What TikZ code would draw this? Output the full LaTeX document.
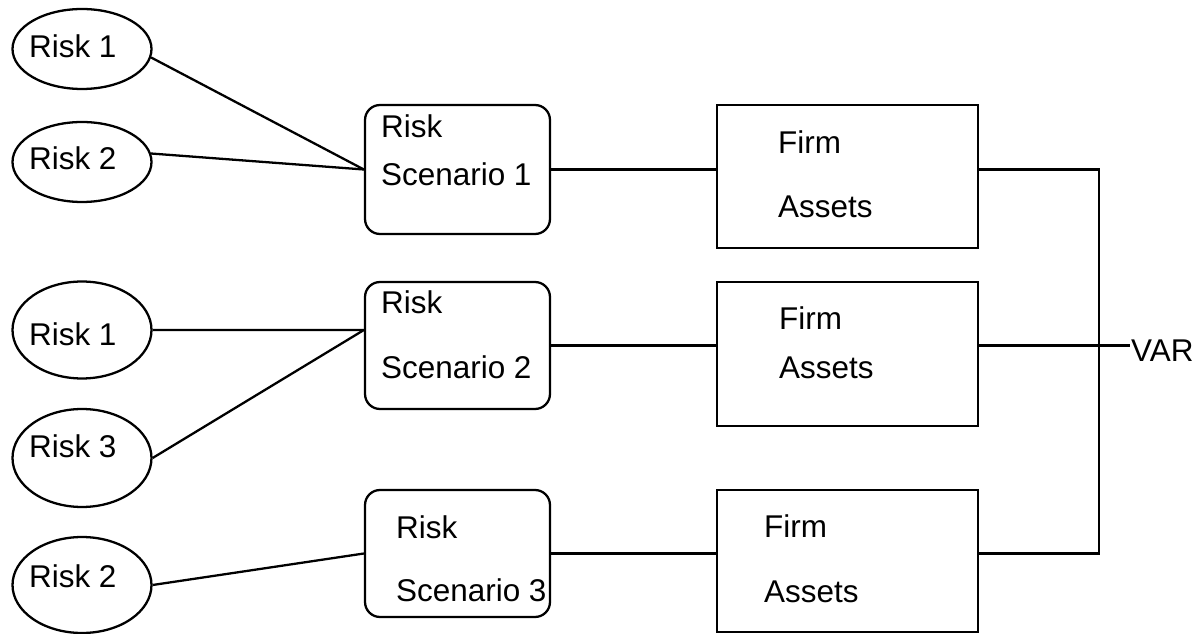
\documentclass[tikz,border=0pt]{standalone}
\usepackage{fontspec}
\setmainfont{Liberation Sans}
\usepackage{tikz}
\usetikzlibrary{shapes.geometric}

\begin{document}
\begin{tikzpicture}[x=0.02cm,y=-0.02cm,line width=1.3pt,
		risk/.style={draw,ellipse,inner sep=0pt,minimum width=2.78cm},
		scen/.style={draw,rounded corners=0.3cm,inner sep=0pt,minimum width=3.7cm},
		firm/.style={draw,inner sep=0pt,minimum width=5.22cm},
		lbl/.style={inner sep=0pt,anchor=base west,font=\fontsize{17.9}{21}\selectfont}]
			\useasboundingbox (0,0) rectangle (1199,634);
			
			% risks
			\node[risk,minimum height=1.6cm] (r1a) at (82,49) {};
			\node[risk,minimum height=1.6cm] (r2a) at (82,162) {};
			\node[risk,minimum height=1.94cm] (r1b) at (82,330) {};
			\node[risk,minimum height=1.96cm] (r3) at (82,458) {};
			\node[risk,minimum height=1.92cm] (r2b) at (82,585) {};
			\node[lbl] (t1a) at (28,58) {Risk 1};
			\node[lbl] (t2a) at (28,170) {Risk 2};
			\node[lbl] (t1b) at (28,346) {Risk 1};
			\node[lbl] (t3) at (28,457) {Risk 3};
			\node[lbl] (t2b) at (28,587) {Risk 2};
			
			% scenarios
			\node[scen,minimum height=2.58cm] (s1) at (457.5,169.5) {};
			\node[scen,minimum height=2.54cm] (s2) at (457.5,345.5) {};
			\node[scen,minimum height=2.54cm] (s3) at (457.5,553.5) {};
			\node[lbl] (s1a) at (380,138) {Risk};
			\node[lbl] (s1b) at (380,186) {Scenario 1};
			\node[lbl] (s2a) at (380,314) {Risk};
			\node[lbl] (s2b) at (380,378) {Scenario 2};
			\node[lbl] (s3a) at (395,538) {Risk};
			\node[lbl] (s3b) at (395,601) {Scenario 3};
			
			% firm assets
			\node[firm,minimum height=2.86cm] (f1) at (847.5,176.5) {};
			\node[firm,minimum height=2.88cm] (f2) at (847.5,354) {};
			\node[firm,minimum height=2.84cm] (f3) at (847.5,561) {};
			\node[lbl] (f1a) at (777,154) {Firm};
			\node[lbl] (f1b) at (777,218) {Assets};
			\node[lbl] (f2a) at (778,330) {Firm};
			\node[lbl] (f2b) at (778,378) {Assets};
			\node[lbl] (f3a) at (763,537) {Firm};
			\node[lbl] (f3b) at (763,602) {Assets};
			
			\node[lbl] (var) at (1130,362) {VAR};
			\coordinate (bus) at (1099,346);
			\coordinate (s2in) at ([yshift=0.31cm]s2.west);
			
			% connectors
			\draw (r1a.-7) -- (s1.west);
			\draw (r2a.7) -- (s1.west);
			\draw (r1b.east) -- (s2in);
			\draw (r3.east) -- (s2in);
			\draw (r2b.east) -- (s3.west);
			\draw (s1.east) -- (s1.east -| f1.west);
			\draw (s2.east) -- (s2.east -| f2.west);
			\draw (s3.east) -- (s3.east -| f3.west);
			\draw (s1.east -| f1.east) -- (s1.east -| bus) -- (s3.east -| bus) -- (s3.east -| f3.east);
			\draw (s2.east -| f2.east) -- (s2.east -| var.west);
\end{tikzpicture}
\end{document}
